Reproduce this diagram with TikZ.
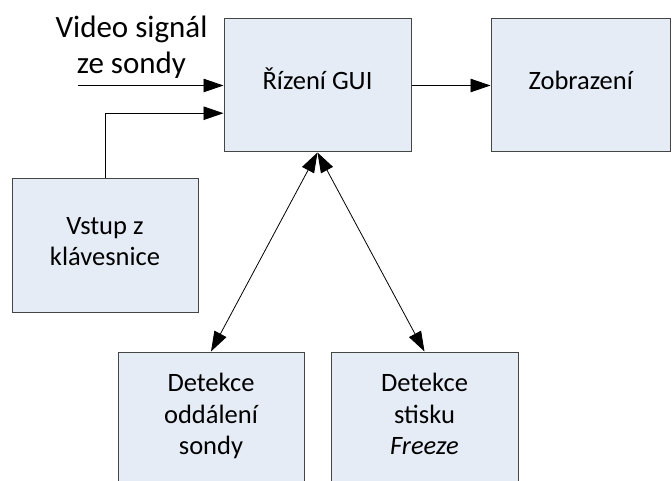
\documentclass[tikz,border=0pt]{standalone}
\usepackage{fontspec}
\setmainfont{Carlito}
\usetikzlibrary{arrows.meta,calc}
\definecolor{boxfill}{HTML}{E6ECF6}
\definecolor{boxline}{HTML}{454545}
\newcommand\tstr{\rule{0pt}{24pt}}
\newcommand\bstr{\rule[-15pt]{0pt}{15pt}}
\begin{document}
\begin{tikzpicture}[x=1pt,y=-1pt,
  blk/.style={draw=boxline,fill=boxfill,line width=1pt,inner sep=0pt,align=center,
    font=\fontsize{26.5}{31.5}\selectfont},
  conn/.style={line width=0.8pt,-{Triangle[length=20pt,width=13.5pt]}},
  bconn/.style={line width=0.8pt,{Triangle[length=20pt,width=13.5pt]}-{Triangle[length=20pt,width=13.5pt]}}]
\clip (0,0) rectangle (672,481);
\node[blk,minimum width=187pt,minimum height=133pt] (gui) at (317.5,85.5) {\tstr Řízení GUI\bstr};
\node[blk,minimum width=179.5pt,minimum height=133pt] (zob) at (580.75,85.5) {\tstr Zobrazení\bstr};
\node[blk,minimum width=186pt,minimum height=133pt] (kbd) at (105,245.5) {\tstr Vstup z\\klávesnice\bstr};
\node[blk,minimum width=186pt,minimum height=133pt] (det1) at (211,418.5) {\tstr Detekce\\oddálení\\sondy\bstr};
\node[blk,minimum width=187pt,minimum height=133pt] (det2) at (424.5,418.5) {\tstr Detekce\\stisku\\\textit{Freeze}\bstr};
\node[align=center,inner sep=0pt,font=\fontsize{31}{35.5}\selectfont] (vid) at (131.5,47) {Video signál\\ze sondy};
\coordinate (vin) at (78,85.5);
\coordinate (kin) at ($(gui.north west)!0.707!(gui.south west)$);
\draw[conn] (vin) -- (gui.west);
\draw[conn] (kbd.north) |- (kin);
\draw[conn] (gui.east) -- (zob.west);
\draw[bconn] (det1.north) -- (gui.south);
\draw[bconn] (det2.north) -- (gui.south);
\end{tikzpicture}
\end{document}
